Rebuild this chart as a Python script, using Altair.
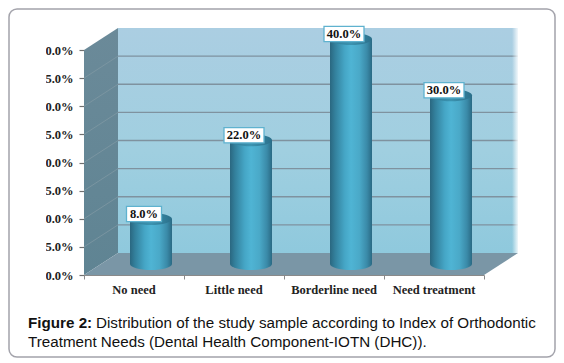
import altair as alt
import pandas as pd

categories = ["No need", "Little need", "Borderline need", "Need treatment"]
values = [8.0, 22.0, 40.0, 30.0]
value_labels = ["8.0%", "22.0%", "40.0%", "30.0%"]
box_widths = [0.35, 0.40, 0.40, 0.40]
y_ticks = [0, 5, 10, 15, 20, 25, 30, 35, 40]
x_ticks = [0, 1, 2, 3, 4]
grid_values = [5, 10, 15, 20, 25, 30, 35]
caption_1a = "Figure 2:"
caption_1b = "Distribution of the study sample according to Index of Orthodontic"
caption_2 = "Treatment Needs (Dental Health Component-IOTN (DHC))."

DX, DY = 0.34, 3.91
SERIF = "Liberation Serif"
SANS = "Liberation Sans"

xs = alt.Scale(domain=[0, 4], range=[76, 476])
ys = alt.Scale(domain=[0, 40], range=[267, 42])
X = lambda f="x": alt.X(f"{f}:Q", scale=xs, axis=None, title=None)
Y = lambda f="y": alt.Y(f"{f}:Q", scale=ys, axis=None, title=None)
X2 = lambda f="x2": alt.X2(f"{f}:Q")
Y2 = lambda f="y2": alt.Y2(f"{f}:Q")


def grad(stops, horizontal=True):
    return alt.Gradient(
        gradient="linear",
        x1=0, y1=0,
        x2=1 if horizontal else 0,
        y2=0 if horizontal else 1,
        stops=[alt.GradientStop(offset=o, color=c) for o, c in stops],
    )


W, H = 548, 351

axis_layer = (
    alt.Chart(pd.DataFrame({"x": [0, 4], "y": [0, 0]}))
    .mark_line(opacity=0)
    .encode(
        x=alt.X("x:Q", scale=xs, title=None, axis=alt.Axis(
            values=x_ticks, labels=False, orient="bottom", offset=-(H - 267),
            grid=False, tickSize=4, tickColor="#8a8a8a", domainColor="#8a8a8a",
            tickWidth=1, domainWidth=1)),
        y=alt.Y("y:Q", scale=ys, title=None, axis=alt.Axis(
            values=y_ticks, orient="left", offset=-76, grid=False, tickSize=5,
            tickColor="#6f6f6f", domainOpacity=0, tickWidth=1.2,
            labelExpr="format(datum.value,'.1f')+'%'",
            labelFont=SERIF, labelFontWeight="bold", labelFontSize=12.5,
            labelColor="#222222", labelPadding=6)),
    )
)

# trims the leading digit of the tick labels, as in the source picture
mask = alt.Chart(pd.DataFrame({"a": [0]})).mark_rect(color="white").encode(
    x=alt.value(14), x2=alt.value(38), y=alt.value(30), y2=alt.value(290)
)

back = pd.DataFrame({"x": [DX], "x2": [4 + DX], "y": [DY], "y2": [40 + DY]})
back_wall = alt.Chart(back).mark_rect(
    color=grad([(0, "#abcee2"), (0.55, "#a0cfe0"), (1, "#8fc9dd")], horizontal=False)
).encode(x=X(), x2=X2(), y=Y(), y2=Y2())

grid = alt.Chart(pd.DataFrame({"v": grid_values})).transform_calculate(
    x=f"{DX}", x2=f"{4 + DX}", y=f"datum.v+{DY}"
).mark_rule(color="#7f929f", strokeWidth=1.4).encode(x=X(), x2=X2(), y=Y())

fade = alt.Chart(pd.DataFrame({"x": [3.94 + DX], "x2": [4 + DX], "y": [DY], "y2": [40 + DY]})).mark_rect(
    color=grad([(0, "rgba(255,255,255,0)"), (1, "rgba(255,255,255,0.85)")])
).encode(x=X(), x2=X2(), y=Y(), y2=Y2())

left_wall = alt.Chart(pd.DataFrame({"x": [0, DX], "y": [0, DY], "y2": [40, 40 + DY]})).mark_area(
    orient="vertical",
    color=grad([(0, "#6b8a99"), (1, "#5f8493")], horizontal=False),
).encode(x=X(), y=Y(), y2=Y2())

side_rows = []
for t in y_ticks[1:-1]:
    side_rows += [{"t": t, "x": 0, "y": t}, {"t": t, "x": DX, "y": t + DY}]
side_lines = alt.Chart(pd.DataFrame(side_rows)).mark_line(color="#7f98a3", strokeWidth=0.8).encode(
    x=X(), y=Y(), detail="t:N"
)

floor = alt.Chart(pd.DataFrame({
    "x": [0, DX, 4, 4 + DX],
    "y": [0, 0, 0, DY],
    "y2": [0, DY, DY, DY],
})).mark_area(orient="vertical", color="#7a96a6").encode(x=X(), y=Y(), y2=Y2())

CYL = grad([
    (0, "#2a6780"), (0.12, "#33809c"), (0.35, "#45a6c6"), (0.5, "#4fb4d4"),
    (0.7, "#4aa9c8"), (0.88, "#3a8aa8"), (1, "#2a6a84"),
])
CAP = grad([(0, "#2e7a96"), (0.5, "#3b93b0"), (1, "#2b6f8a")])
ELLIPSE = ("M-1,0C-1,-.158,-.552,-.286,0,-.286C.552,-.286,1,-.158,1,0"
           "C1,.158,.552,.286,0,.286C-.552,.286,-1,.158,-1,0Z")

bars = pd.DataFrame({"cat": categories, "v": values, "label": value_labels, "bw": box_widths})
bars["i"] = range(len(bars))
bars["xc"] = bars["i"] + 0.67
bars["x"] = bars["xc"] - 0.21
bars["x2"] = bars["xc"] + 0.21
bars["base"] = 1.955
bars["top"] = bars["v"] + 1.955
bars["bx"] = bars["xc"] - 0.07 - bars["bw"] / 2
bars["bx2"] = bars["bx"] + bars["bw"]
bars["by"] = bars["top"] + 0.9 - 1.35
bars["by2"] = bars["top"] + 0.9 + 1.35
bars["tx"] = (bars["bx"] + bars["bx2"]) / 2
bars["ty"] = bars["top"] + 0.9
bars["cx"] = bars["i"] + 0.5

base_cap = alt.Chart(bars).mark_point(
    shape=ELLIPSE, size=1764, filled=True, fill=CYL, opacity=1, strokeWidth=0
).encode(x=X("xc"), y=Y("base"))
body = alt.Chart(bars).mark_rect(color=CYL).encode(x=X(), x2=X2(), y=Y("base"), y2=Y2("top"))
top_cap = alt.Chart(bars).mark_point(
    shape=ELLIPSE, size=1764, filled=True, fill=CAP, opacity=1, strokeWidth=0
).encode(x=X("xc"), y=Y("top"))

boxes = alt.Chart(bars).mark_rect(color="white", stroke="#5fb2cf", strokeWidth=1.3).encode(
    x=X("bx"), x2=X2("bx2"), y=Y("by"), y2=Y2("by2")
)
box_text = alt.Chart(bars).mark_text(
    font=SERIF, fontWeight="bold", fontSize=12.5, color="#111111", baseline="middle"
).encode(x=X("tx"), y=Y("ty"), text="label:N")

cat_text = alt.Chart(bars).transform_calculate(yy="-2.7").mark_text(
    font=SERIF, fontWeight="bold", fontSize=12.5, color="#222222", baseline="middle"
).encode(x=X("cx"), y=Y("yy"), text="cat:N")

frame = alt.Chart(pd.DataFrame({"a": [0]})).mark_rect(
    fillOpacity=0, stroke="#a3a3ab", strokeWidth=1.5, cornerRadius=8
).encode(x=alt.value(1), x2=alt.value(547), y=alt.value(1), y2=alt.value(349))


def cap(text, x, y, weight="normal"):
    return alt.Chart(pd.DataFrame({"t": [text]})).mark_text(
        font=SANS, fontSize=15.2, fontWeight=weight, color="#111111", align="left", baseline="alphabetic"
    ).encode(x=alt.value(x), y=alt.value(y), text="t:N")


chart = alt.layer(
    axis_layer, mask, back_wall, grid, fade, left_wall, side_lines, floor,
    base_cap, body, top_cap, boxes, box_text, cat_text, frame,
    cap(caption_1a, 20, 319.5, "bold"), cap(caption_1b, 88, 319.5), cap(caption_2, 20, 338.5),
).resolve_axis(x="independent", y="independent").properties(
    width=W, height=H, padding=0, autosize=alt.AutoSizeParams(type="none"), background="white"
).configure_view(stroke=None)

chart.save("out.html", embed_options={"renderer": "svg", "actions": False})
